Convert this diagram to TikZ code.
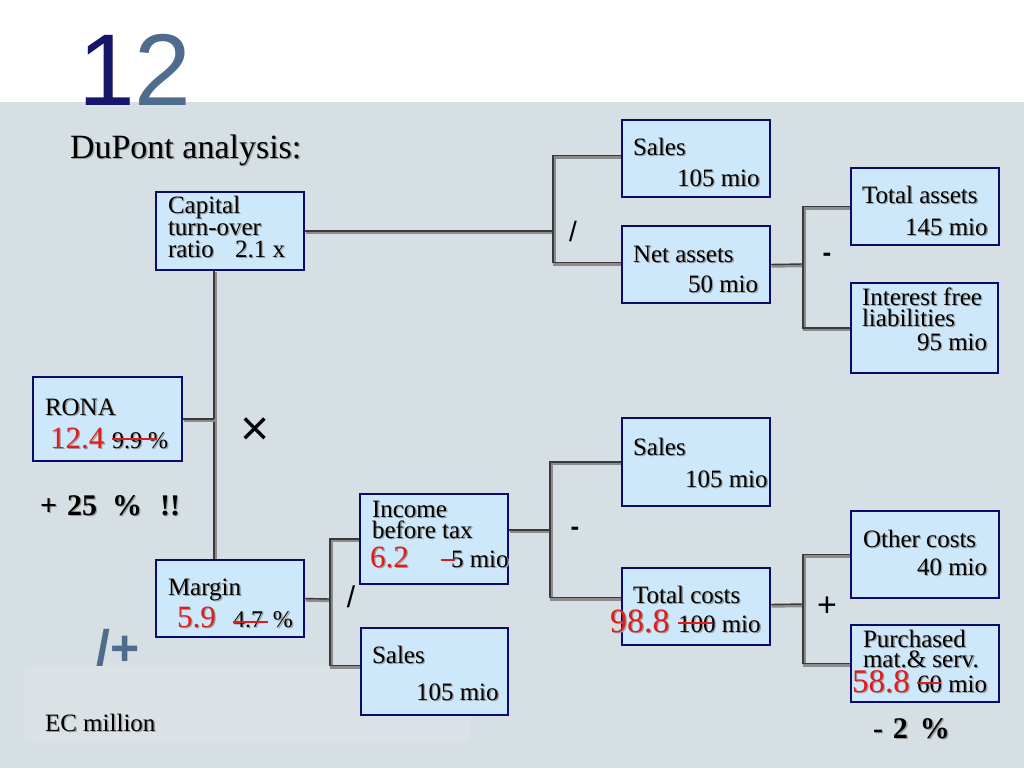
\documentclass[tikz,border=0pt]{standalone}
\usepackage{fontspec}
\setmainfont{Liberation Serif}
\newfontfamily\hv{Liberation Sans}
\definecolor{bgc}{HTML}{D5DFE4}
\definecolor{boxfill}{HTML}{CCE8FA}
\definecolor{navy}{HTML}{0B0B6E}
\definecolor{lnk}{HTML}{3A3A3A}
\definecolor{lnkshadow}{HTML}{8C8C8C}
\definecolor{shd}{HTML}{9C9C9C}
\definecolor{rd}{HTML}{E41B1B}
\definecolor{onec}{HTML}{16166A}
\definecolor{twoc}{HTML}{4E6D8C}
\definecolor{ecc}{HTML}{DBE2E6}
\pgfdeclarelayer{back}
\pgfdeclarelayer{links}
\pgfsetlayers{back,links,main}
\newcommand\bx[6]{\node[#1,minimum width={#5-#3},minimum height={#6-#4}] (#2) at ({(#3+#5)/2},{(#4+#6)/2}) {};}
\newcommand\tx[4][]{\node[txt,#1,text=shd,xshift=1.4pt,yshift=-1.4pt] at (#3) {#4};\node[txt,#1] (#2) at (#3) {#4};}
\begin{document}
\begin{tikzpicture}[x=1pt,y=-1pt,
  box/.style={draw=navy,fill=boxfill,line width=2.8pt,inner sep=0pt,outer sep=0pt},
  thinbox/.style={box,line width=1.6pt},
  txt/.style={inner sep=0pt,outer sep=0pt,anchor=base west,text=black,font=\fontsize{25}{25}\selectfont},
  big/.style={font=\fontsize{31}{31}\selectfont,text=rd},
  bold/.style={font=\fontsize{30}{30}\selectfont\bfseries},
  op/.style={anchor=center,font=\hv\fontsize{28}{28}\selectfont},
  link/.style={draw=lnk,line width=1.4pt,preaction={draw=lnkshadow,line width=3.2pt,transform canvas={shift={(1.6pt,-1.6pt)}}}},
  strike/.style={draw=rd,line width=1.4pt}
]
\useasboundingbox (0,0) rectangle (1024,768);
\begin{pgfonlayer}{back}
\fill[white] (0,0) rectangle (1024,102);
\fill[bgc] (0,102) rectangle (1024,768);
\fill[ecc] (25,666) rectangle (470,742);
\end{pgfonlayer}

% title
\node[inner sep=0pt,anchor=base west,font=\hv\fontsize{102}{102}\selectfont] (num) at (78,105) {\textcolor{onec}{1}\textcolor{twoc}{2}};
\tx[font=\fontsize{34}{34}\selectfont]{title}{70,158}{DuPont analysis:}

% boxes
\bx{thinbox}{cap}{156}{192}{304}{270}
\bx{box}{rona}{33}{377}{182}{461}
\bx{box}{mar}{156}{560}{304}{637}
\bx{thinbox}{inc}{360}{494}{508}{584}
\bx{thinbox}{salesB}{361}{628}{508}{715}
\bx{box}{salesT}{622}{120}{770}{197}
\bx{box}{net}{622}{226}{770}{303}
\bx{box}{tota}{851}{168}{999}{245}
\bx{thinbox}{ifl}{851}{283}{998}{373}
\bx{thinbox}{salesM}{622}{418}{770}{506}
\bx{box}{totc}{622}{568}{770}{645}
\bx{thinbox}{oth}{851}{511}{999}{598}
\bx{box}{pur}{851}{625}{999}{702}

% junctions
\coordinate (j1) at (553,231);
\coordinate (j2) at (214,419);
\coordinate (j3) at (330,599);
\coordinate (j4) at (550,530);
\coordinate (j5) at (803,264);
\coordinate (j6) at (803,604);

\begin{pgfonlayer}{links}
\draw[link] (cap.east) -- (j1);
\draw[link] ([yshift=3pt]salesT.west) -| (j1) |- ([yshift=2pt]net.west);
\draw[link] (j2 |- cap.south) -- (j2 |- mar.north);
\draw[link] (rona.east) -- (j2);
\draw[link] (mar.east) -- (j3);
\draw[link] (inc.west) -| (j3) |- ([yshift=6pt]salesB.west);
\draw[link] ([yshift=9pt]inc.east) -- (j4);
\draw[link] (salesM.west) -| (j4) |- ([yshift=9pt]totc.west);
\draw[link] (net.east) -- (j5);
\draw[link] (tota.west) -| (j5) |- (ifl.west);
\draw[link] ([yshift=2pt]totc.east) -- (j6);
\draw[link] (oth.west) -| (j6) |- (pur.west);
\end{pgfonlayer}

% operators
\node[op] (opdiv1) at (573,231) {/};
\node[op,font=\hv\bfseries\fontsize{26}{26}\selectfont] (opmin1) at (827,257) {-};
\node[op,font=\hv\fontsize{50}{50}\selectfont] (optimes) at (255,432) {×};
\node[op,font=\hv\fontsize{30}{30}\selectfont] (opdiv2) at (351,597) {/};
\node[op,font=\hv\bfseries\fontsize{26}{26}\selectfont] (opmin2) at (575,531) {-};
\node[op,font=\hv\fontsize{34}{34}\selectfont] (opplus) at (827,607) {+};

% Capital box
\tx{capA}{168,213}{Capital}
\tx{capB}{168,235}{turn-over}
\tx{capC}{168,257}{ratio}
\tx{capD}{235,257}{2.1 x}

% RONA
\tx{ronaA}{45,415}{RONA}
\tx[big]{ronaB}{50,448}{12.4}
\tx[font=\fontsize{24}{24}\selectfont]{ronaC}{112,448}{9.9 \%}
\draw[strike] (112,439) -- (157,439);
\tx[bold]{plus25}{40,515}{+\hspace{10pt}25\hspace{15pt}\%\hspace{18pt}!!}

% Margin
\tx{marA}{168,595}{Margin}
\tx[big]{marB}{177,627}{5.9}
\tx[font=\fontsize{24}{24}\selectfont]{marC}{233,627}{4.7\hspace{10pt}\%}
\draw[strike] (233,622) -- (268,622);
\node[inner sep=0pt,anchor=base west,text=twoc,font=\hv\bfseries\fontsize{50}{50}\selectfont] (slplus) at (96,665) {/+};
\tx{ec}{45,731}{EC million}

% Income before tax
\tx{incA}{372,517}{Income}
\tx{incB}{372,538}{before tax}
\tx[big]{incC}{370,567}{6.2}
\tx{incD}{451,567}{5 mio}
\draw[strike] (441,560) -- (455,560);

% Sales bottom
\tx{sbA}{372,663}{Sales}
\tx{sbB}{416,700}{105 mio}

% Sales top
\tx{stA}{633,155}{Sales}
\tx{stB}{677,186}{105 mio}

% Net assets
\tx{naA}{633,262}{Net assets}
\tx{naB}{688,292}{50 mio}

% Total assets
\tx{taA}{862,203}{Total assets}
\tx{taB}{905,235}{145 mio}

% Interest free liabilities
\tx{ifA}{862,305}{Interest free}
\tx{ifB}{862,326}{liabilities}
\tx{ifC}{917,350}{95 mio}

% Sales mid
\tx{smA}{633,455}{Sales}
\tx{smB}{685,487}{105 mio}

% Total costs
\tx{tcA}{633,603}{Total costs}
\tx[big,font=\fontsize{34}{34}\selectfont]{tcB}{610,632}{98.8}
\tx{tcC}{678,632}{100 mio}
\draw[strike] (678,623) -- (712,623);

% Other costs
\tx{ocA}{863,547}{Other costs}
\tx{ocB}{917,575}{40 mio}

% Purchased
\tx{puA}{863,647}{Purchased}
\tx{puB}{863,667}{mat.\& serv.}
\tx[big,font=\fontsize{33}{33}\selectfont]{puC}{852,692}{58.8}
\tx{puD}{917,692}{60 mio}
\draw[strike] (917,683) -- (941,683);
\tx[bold]{minus2}{873,738}{-\hspace{10pt}2\hspace{12pt}\%}
\end{tikzpicture}
\end{document}
